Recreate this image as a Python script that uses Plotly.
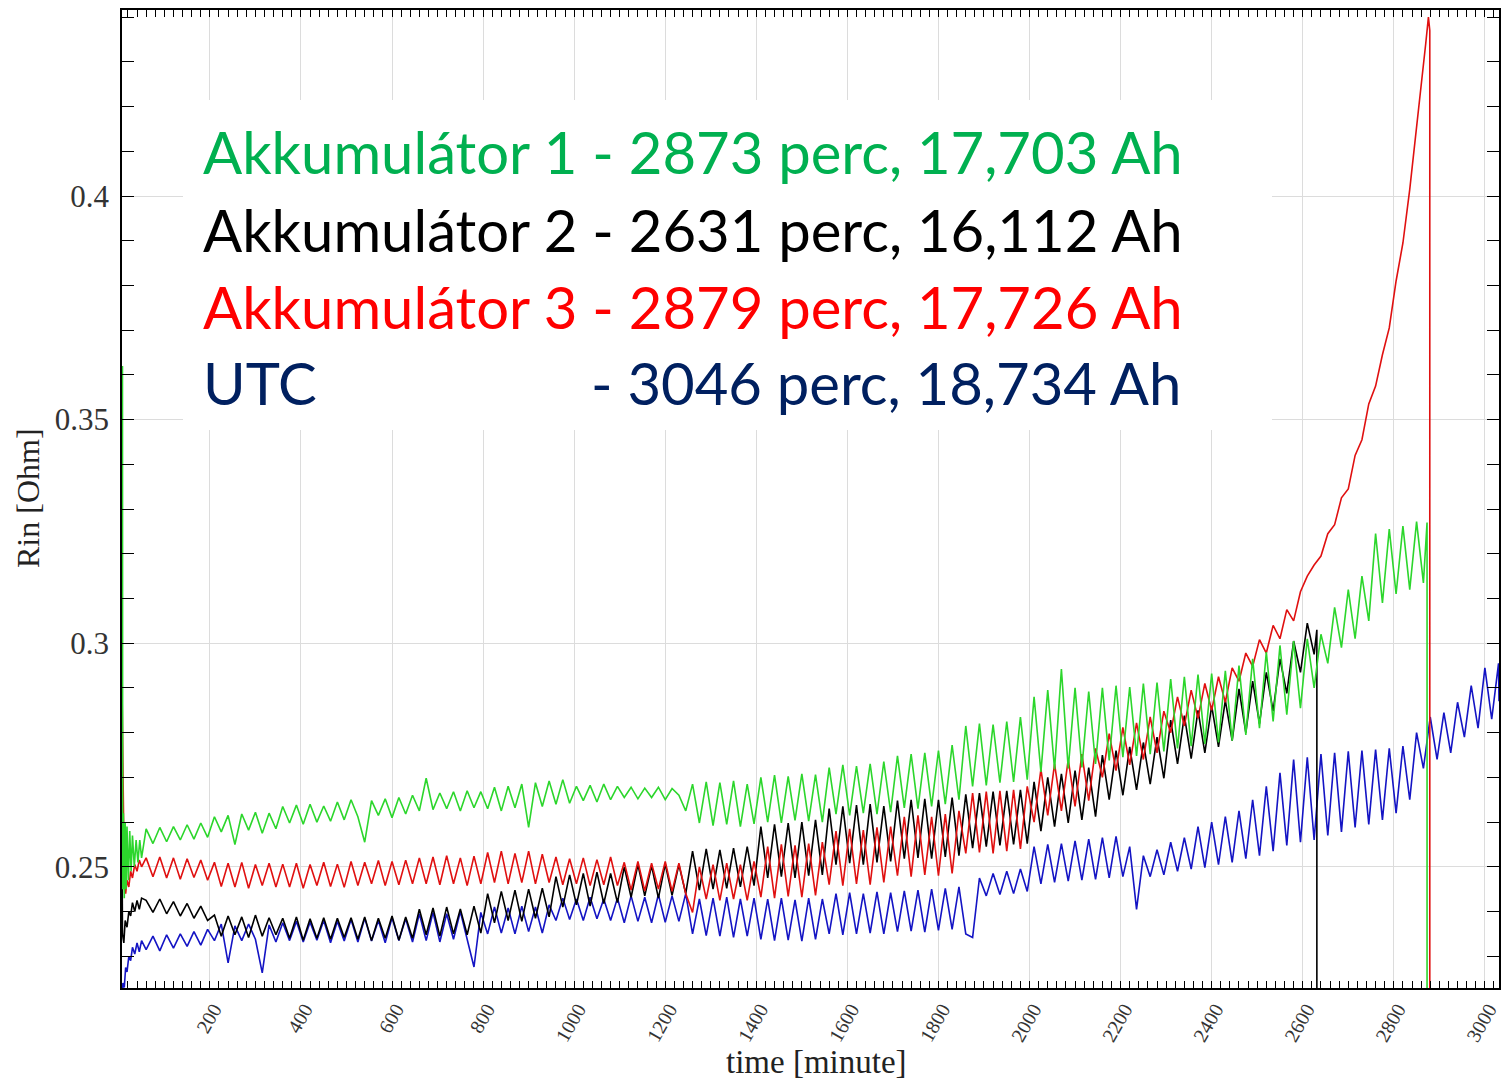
import plotly.graph_objects as go

STEP = 15  # body sampling interval in minutes

# ---------------- Akkumulátor 1 (green) ----------------
acc1_head_t = [8, 8.5, 10, 12, 14, 16, 18, 21, 24, 27, 30, 34, 38, 42, 46, 50]
acc1_head_v = [0.362, 0.245, 0.262, 0.243, 0.260, 0.245, 0.259, 0.247, 0.258, 0.249,
               0.257, 0.250, 0.256, 0.251, 0.256, 0.252]
acc1_body_start = 60
acc1_body = [
    0.2585, 0.2552, 0.2588, 0.2556, 0.2590, 0.2560, 0.2594, 0.2562, 0.2598, 0.2566,
    0.2612, 0.2578, 0.2615, 0.2550, 0.2618, 0.2582, 0.2622, 0.2575, 0.2620, 0.2585,
    0.2635, 0.2598, 0.2638, 0.2595, 0.2640, 0.2600, 0.2636, 0.2602, 0.2645, 0.2605,
    0.2650, 0.2612, 0.2555, 0.2648, 0.2615, 0.2652, 0.2610, 0.2655, 0.2618, 0.2660,
    0.2625, 0.2698, 0.2628, 0.2665, 0.2630, 0.2668, 0.2625, 0.2670, 0.2632, 0.2668,
    0.2630, 0.2678, 0.2625, 0.2680, 0.2632, 0.2685, 0.2588, 0.2688, 0.2635, 0.2692,
    0.2640, 0.2695, 0.2642, 0.2680, 0.2648, 0.2682, 0.2645, 0.2685, 0.2650, 0.2680,
    0.2655, 0.2678, 0.2652, 0.2676, 0.2655, 0.2678, 0.2650, 0.2675, 0.2660, 0.2625,
    0.2685, 0.2598, 0.2690, 0.2592, 0.2688, 0.2595, 0.2692, 0.2590, 0.2685, 0.2596,
    0.2700, 0.2600, 0.2705, 0.2598, 0.2702, 0.2604, 0.2708, 0.2602, 0.2706, 0.2600,
    0.2722, 0.2618, 0.2728, 0.2615, 0.2725, 0.2620, 0.2730, 0.2618, 0.2735, 0.2622,
    0.2748, 0.2632, 0.2752, 0.2630, 0.2755, 0.2635, 0.2760, 0.2640, 0.2772, 0.2650,
    0.2815, 0.2680, 0.2820, 0.2682, 0.2818, 0.2688, 0.2825, 0.2690, 0.2835, 0.2695,
    0.2880, 0.2712, 0.2895, 0.2718, 0.2942, 0.2720, 0.2900, 0.2722, 0.2892, 0.2730,
    0.2900, 0.2738, 0.2905, 0.2745, 0.2902, 0.2748, 0.2910, 0.2752, 0.2912, 0.2758,
    0.2920, 0.2765, 0.2925, 0.2770, 0.2930, 0.2775, 0.2932, 0.2778, 0.2938, 0.2782,
    0.2950, 0.2795, 0.2965, 0.2810, 0.2980, 0.2825, 0.2995, 0.2840, 0.3005, 0.2855,
    0.3010, 0.2900, 0.3020, 0.2955, 0.3080, 0.2990, 0.3120, 0.3010, 0.3150, 0.3050,
    0.3245, 0.3090, 0.3255, 0.3110, 0.3262, 0.3120, 0.3272, 0.3135,
]
acc1_tail_t = [2870, 2873, 2873]
acc1_tail_v = [0.3230, 0.3270, 0.200]

# ---------------- Akkumulátor 2 (black) ----------------
acc2_head_t = [6, 7, 8, 11, 14, 18, 22, 26, 30, 35, 40, 45, 50]
acc2_head_v = [0.2790, 0.2600, 0.2350, 0.2330, 0.2380, 0.2365, 0.2400, 0.2390,
               0.2420, 0.2400, 0.2425, 0.2405, 0.2430]
acc2_body_start = 60
acc2_body = [
    0.2425, 0.2398, 0.2428, 0.2395, 0.2422, 0.2390, 0.2418, 0.2385, 0.2412, 0.2380,
    0.2392, 0.2345, 0.2390, 0.2348, 0.2388, 0.2342, 0.2392, 0.2345, 0.2386, 0.2348,
    0.2385, 0.2340, 0.2388, 0.2336, 0.2384, 0.2340, 0.2386, 0.2338, 0.2385, 0.2342,
    0.2386, 0.2338, 0.2388, 0.2335, 0.2385, 0.2340, 0.2390, 0.2336, 0.2388, 0.2340,
    0.2405, 0.2348, 0.2408, 0.2345, 0.2410, 0.2350, 0.2406, 0.2348, 0.2412, 0.2352,
    0.2440, 0.2375, 0.2445, 0.2380, 0.2448, 0.2378, 0.2450, 0.2385, 0.2452, 0.2388,
    0.2478, 0.2410, 0.2482, 0.2415, 0.2485, 0.2412, 0.2488, 0.2418, 0.2485, 0.2420,
    0.2500, 0.2432, 0.2505, 0.2435, 0.2502, 0.2430, 0.2506, 0.2436, 0.2505, 0.2440,
    0.2535, 0.2448, 0.2540, 0.2450, 0.2538, 0.2452, 0.2542, 0.2455, 0.2545, 0.2458,
    0.2590, 0.2475, 0.2595, 0.2478, 0.2598, 0.2475, 0.2600, 0.2480, 0.2605, 0.2482,
    0.2630, 0.2505, 0.2635, 0.2508, 0.2638, 0.2505, 0.2640, 0.2510, 0.2636, 0.2512,
    0.2648, 0.2518, 0.2650, 0.2520, 0.2652, 0.2518, 0.2650, 0.2522, 0.2655, 0.2525,
    0.2662, 0.2542, 0.2665, 0.2545, 0.2668, 0.2548, 0.2670, 0.2550, 0.2672, 0.2552,
    0.2690, 0.2580, 0.2700, 0.2590, 0.2708, 0.2598, 0.2715, 0.2605, 0.2722, 0.2612,
    0.2750, 0.2650, 0.2760, 0.2660, 0.2768, 0.2672, 0.2778, 0.2685, 0.2790, 0.2698,
    0.2828, 0.2730, 0.2838, 0.2742, 0.2850, 0.2755, 0.2860, 0.2768, 0.2872, 0.2782,
    0.2898, 0.2800, 0.2915, 0.2820, 0.2935, 0.2848, 0.2965, 0.2888, 0.3005, 0.2935,
    0.3045, 0.2975,
]
acc2_tail_t = [2631, 2631]
acc2_tail_v = [0.3030, 0.200]

# ---------------- Akkumulátor 3 (red) ----------------
acc3_head_t = [7, 8, 10, 12, 15, 18, 22, 26, 30, 35, 40, 45, 50]
acc3_head_v = [0.2905, 0.2780, 0.2560, 0.2470, 0.2440, 0.2470, 0.2455, 0.2490,
               0.2475, 0.2505, 0.2490, 0.2515, 0.2500]
acc3_body_start = 60
acc3_body = [
    0.2520, 0.2478, 0.2522, 0.2475, 0.2520, 0.2472, 0.2518, 0.2476, 0.2515, 0.2470,
    0.2510, 0.2456, 0.2508, 0.2455, 0.2510, 0.2452, 0.2505, 0.2458, 0.2508, 0.2455,
    0.2506, 0.2455, 0.2508, 0.2452, 0.2505, 0.2458, 0.2510, 0.2456, 0.2506, 0.2454,
    0.2512, 0.2458, 0.2510, 0.2462, 0.2514, 0.2458, 0.2512, 0.2460, 0.2515, 0.2462,
    0.2520, 0.2462, 0.2522, 0.2460, 0.2525, 0.2462, 0.2520, 0.2458, 0.2524, 0.2462,
    0.2532, 0.2465, 0.2535, 0.2462, 0.2530, 0.2465, 0.2535, 0.2462, 0.2528, 0.2465,
    0.2522, 0.2460, 0.2518, 0.2462, 0.2520, 0.2458, 0.2516, 0.2460, 0.2522, 0.2458,
    0.2510, 0.2448, 0.2512, 0.2446, 0.2508, 0.2450, 0.2512, 0.2445, 0.2508, 0.2440,
    0.2398, 0.2500, 0.2428, 0.2505, 0.2425, 0.2508, 0.2428, 0.2505, 0.2425, 0.2512,
    0.2432, 0.2545, 0.2430, 0.2550, 0.2434, 0.2548, 0.2432, 0.2552, 0.2436, 0.2555,
    0.2460, 0.2580, 0.2458, 0.2585, 0.2462, 0.2582, 0.2460, 0.2588, 0.2465, 0.2590,
    0.2480, 0.2612, 0.2478, 0.2615, 0.2482, 0.2612, 0.2480, 0.2618, 0.2485, 0.2625,
    0.2530, 0.2665, 0.2532, 0.2668, 0.2530, 0.2670, 0.2535, 0.2672, 0.2540, 0.2680,
    0.2600, 0.2718, 0.2615, 0.2730, 0.2625, 0.2740, 0.2635, 0.2752, 0.2648, 0.2765,
    0.2700, 0.2798, 0.2715, 0.2812, 0.2728, 0.2822, 0.2740, 0.2835, 0.2755, 0.2848,
    0.2800, 0.2880, 0.2815, 0.2895, 0.2832, 0.2910, 0.2850, 0.2925, 0.2868, 0.2945,
    0.2915, 0.2978, 0.2948, 0.3008, 0.2978, 0.3040, 0.3010, 0.3075, 0.3050, 0.3115,
    0.3150, 0.3175, 0.3195, 0.3245, 0.3265, 0.3325, 0.3345, 0.3420, 0.3455, 0.3535,
    0.3575, 0.3645, 0.3705, 0.3810, 0.3895, 0.4015, 0.4150, 0.4295,
]
acc3_tail_t = [2870, 2876, 2879, 2879]
acc3_tail_v = [0.4340, 0.4400, 0.4370, 0.200]

# ---------------- UTC (blue) ----------------
utc_head_t = [7, 9, 12, 15, 18, 22, 26, 30, 35, 40, 45, 50]
utc_head_v = [0.2200, 0.2240, 0.2230, 0.2275, 0.2265, 0.2300, 0.2290, 0.2320,
              0.2305, 0.2330, 0.2310, 0.2335]
utc_body_start = 60
utc_body = [
    0.2315, 0.2345, 0.2312, 0.2348, 0.2318, 0.2350, 0.2322, 0.2355, 0.2325, 0.2360,
    0.2335, 0.2372, 0.2285, 0.2368, 0.2335, 0.2372, 0.2338, 0.2263, 0.2370, 0.2332,
    0.2375, 0.2335, 0.2378, 0.2332, 0.2376, 0.2336, 0.2380, 0.2330, 0.2378, 0.2334,
    0.2382, 0.2332, 0.2385, 0.2334, 0.2380, 0.2330, 0.2386, 0.2335, 0.2384, 0.2332,
    0.2395, 0.2335, 0.2398, 0.2332, 0.2395, 0.2338, 0.2400, 0.2335, 0.2276, 0.2398,
    0.2350, 0.2410, 0.2352, 0.2408, 0.2350, 0.2412, 0.2355, 0.2410, 0.2352, 0.2415,
    0.2380, 0.2430, 0.2382, 0.2428, 0.2380, 0.2432, 0.2384, 0.2428, 0.2380, 0.2430,
    0.2375, 0.2435, 0.2378, 0.2432, 0.2375, 0.2438, 0.2376, 0.2435, 0.2378, 0.2440,
    0.2350, 0.2428, 0.2346, 0.2430, 0.2345, 0.2432, 0.2342, 0.2428, 0.2345, 0.2430,
    0.2338, 0.2428, 0.2335, 0.2430, 0.2336, 0.2426, 0.2334, 0.2430, 0.2338, 0.2428,
    0.2350, 0.2440, 0.2348, 0.2442, 0.2350, 0.2440, 0.2352, 0.2444, 0.2350, 0.2442,
    0.2355, 0.2446, 0.2356, 0.2448, 0.2354, 0.2450, 0.2358, 0.2452, 0.2360, 0.2455,
    0.2350, 0.2342, 0.2475, 0.2435, 0.2485, 0.2438, 0.2490, 0.2440, 0.2495, 0.2445,
    0.2545, 0.2462, 0.2550, 0.2465, 0.2552, 0.2468, 0.2558, 0.2470, 0.2562, 0.2472,
    0.2565, 0.2475, 0.2568, 0.2478, 0.2545, 0.2405, 0.2525, 0.2478, 0.2538, 0.2482,
    0.2555, 0.2490, 0.2565, 0.2495, 0.2590, 0.2498, 0.2600, 0.2505, 0.2612, 0.2510,
    0.2625, 0.2518, 0.2650, 0.2525, 0.2680, 0.2535, 0.2710, 0.2548, 0.2740, 0.2555,
    0.2745, 0.2560, 0.2752, 0.2570, 0.2755, 0.2578, 0.2758, 0.2588, 0.2760, 0.2595,
    0.2762, 0.2605, 0.2765, 0.2620, 0.2770, 0.2650, 0.2800, 0.2720, 0.2835, 0.2740,
    0.2845, 0.2755, 0.2868, 0.2790, 0.2905, 0.2810, 0.2945, 0.2830, 0.2955,
]
utc_tail_t = [3031]
utc_tail_v = [0.2870]

# ---------------- axes / labels ----------------
x_tick_vals = [200, 400, 600, 800, 1000, 1200, 1400, 1600, 1800, 2000, 2200, 2400, 2600, 2800, 3000]
x_tick_text = ["200", "400", "600", "800", "1000", "1200", "1400", "1600", "1800",
               "2000", "2200", "2400", "2600", "2800", "3000"]
y_tick_vals = [0.25, 0.30, 0.35, 0.40]
y_tick_text = ["0.25", "0.3", "0.35", "0.4"]
x_range = [7, 3031]
y_range = [0.2229, 0.4416]
x_title = "time [minute]"
y_title = "Rin [Ohm]"

legend_lines = [
    ("Akkumulátor 1 - 2873 perc, 17,703 Ah", "#00B050"),
    ("Akkumulátor 2 - 2631 perc, 16,112 Ah", "#000000"),
    ("Akkumulátor 3 - 2879 perc, 17,726 Ah", "#FF0000"),
]
utc_label_left = "UTC"
utc_label_right = "- 3046 perc, 18,734 Ah"
utc_text_color = "#002060"


def build(head_t, head_v, start, body, tail_t, tail_v):
    t = list(head_t) + [start + STEP * i for i in range(len(body))] + list(tail_t)
    v = list(head_v) + list(body) + list(tail_v)
    return t, v


series = [
    ("UTC", build(utc_head_t, utc_head_v, utc_body_start, utc_body, utc_tail_t, utc_tail_v), "#1414c4"),
    ("Akkumulátor 2", build(acc2_head_t, acc2_head_v, acc2_body_start, acc2_body, acc2_tail_t, acc2_tail_v), "#000000"),
    ("Akkumulátor 3", build(acc3_head_t, acc3_head_v, acc3_body_start, acc3_body, acc3_tail_t, acc3_tail_v), "#e01010"),
    ("Akkumulátor 1", build(acc1_head_t, acc1_head_v, acc1_body_start, acc1_body, acc1_tail_t, acc1_tail_v), "#2cd62c"),
]

fig = go.Figure()
for name, (t, v), color in series:
    fig.add_trace(go.Scatter(x=t, y=v, mode="lines", name=name,
                             line=dict(color=color, width=1.6), showlegend=False))

W, H = 1501, 1080
L, R, T, B = 122, 2, 10, 92
pw, ph = W - L - R, H - T - B


def px_x(p):
    return (p - L) / pw


def px_y(p):
    return (H - B - p) / ph


serif = "Liberation Serif, Times New Roman, serif"
fig.update_layout(
    width=W, height=H,
    margin=dict(l=L, r=R, t=T, b=B, autoexpand=False),
    paper_bgcolor="white", plot_bgcolor="white",
    font=dict(family=serif, color="#222222"),
)

fig.update_xaxes(
    range=x_range, tickvals=x_tick_vals, ticktext=x_tick_text, tickangle=-60,
    tickfont=dict(family=serif, size=20, color="#333333"), automargin=False,
    ticklabelshift=4, ticklabeloverflow="allow",
    ticks="", showline=True, linecolor="black", linewidth=1.5, mirror="allticks",
    showgrid=True, gridcolor="#dcdcdc", gridwidth=1, zeroline=False,
    minor=dict(dtick=20, tick0=0, ticks="inside", ticklen=7, tickcolor="black", tickwidth=1, showgrid=False),
)
fig.update_yaxes(
    range=y_range, tickvals=y_tick_vals, ticktext=y_tick_text,
    tickfont=dict(family=serif, size=31, color="#333333"), automargin=False,
    ticklabelstandoff=5,
    ticks="", showline=True, linecolor="black", linewidth=1.5, mirror="allticks",
    showgrid=True, gridcolor="#dcdcdc", gridwidth=1, zeroline=False,
    minor=dict(dtick=0.01, tick0=0, ticks="inside", ticklen=12, tickcolor="black", tickwidth=1, showgrid=False),
)

# axis titles
fig.add_annotation(xref="paper", yref="paper", x=px_x(816), y=px_y(1062),
                   xanchor="center", yanchor="middle", showarrow=False, text=x_title,
                   font=dict(family=serif, size=33, color="#222222"))
fig.add_annotation(xref="paper", yref="paper", x=px_x(28), y=px_y(498),
                   xanchor="center", yanchor="middle", showarrow=False, text=y_title,
                   textangle=-90, font=dict(family=serif, size=32, color="#222222"))

# white panel behind the text block
fig.add_shape(type="rect", xref="paper", yref="paper",
              x0=px_x(183), x1=px_x(1272), y0=px_y(430), y1=px_y(100),
              fillcolor="white", line=dict(width=0), layer="above")

legend_font = "Lato, Carlito, Calibri, sans-serif"
legend_size = 58
line_y = [152, 229, 306, 382]
for (txt, col), yy in zip(legend_lines, line_y[:3]):
    fig.add_annotation(xref="paper", yref="paper", x=px_x(201), y=px_y(yy),
                       xanchor="left", yanchor="middle", showarrow=False, text=txt,
                       font=dict(family=legend_font, size=legend_size, color=col))
fig.add_annotation(xref="paper", yref="paper", x=px_x(201), y=px_y(line_y[3]),
                   xanchor="left", yanchor="middle", showarrow=False, text=utc_label_left,
                   font=dict(family=legend_font, size=legend_size, color=utc_text_color))
fig.add_annotation(xref="paper", yref="paper", x=px_x(1183), y=px_y(line_y[3]),
                   xanchor="right", yanchor="middle", showarrow=False, text=utc_label_right,
                   font=dict(family=legend_font, size=legend_size, color=utc_text_color))

# remove the default page margin so the figure sits at the window origin
fig.write_html("out.html", config={"displayModeBar": False},
               post_script="document.body.style.margin='0';document.body.style.overflow='hidden';")
